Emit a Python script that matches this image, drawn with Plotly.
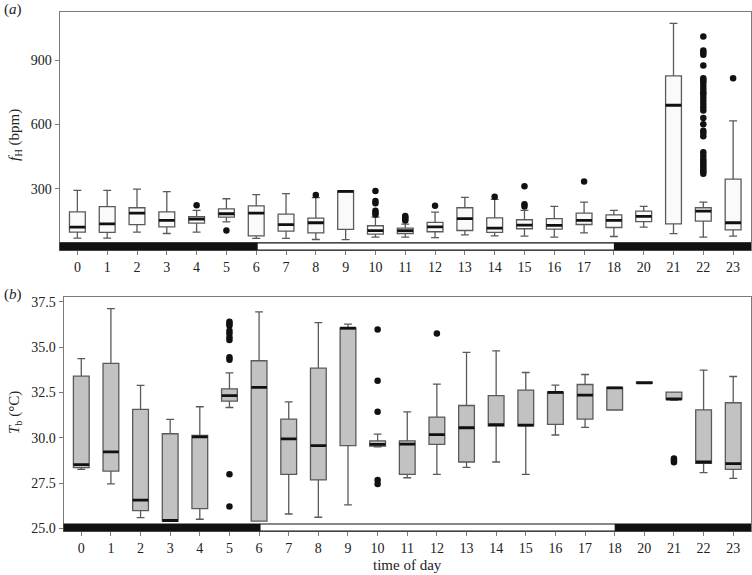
import plotly.graph_objects as go

hours = ["0", "1", "2", "3", "4", "5", "6", "7", "8", "9", "10", "11", "12",
         "13", "14", "15", "16", "17", "18", "20", "21", "22", "23"]

# (a) heart rate f_H (bpm)
fh_lower = [69, 69, 97, 91, 97, 145, 68, 68, 63, 62, 74, 74, 72, 85, 80, 79, 74, 94, 77, 121, 90, 74, 79]
fh_q1 = [97, 96, 132, 122, 139, 167, 80, 102, 94, 110, 88, 91, 99, 105, 96, 113, 111, 133, 119, 146, 136, 149, 108]
fh_median = [121, 136, 186, 152, 158, 183, 186, 132, 141, 287, 104, 104, 122, 160, 116, 130, 129, 152, 152, 171, 689, 195, 141]
fh_q3 = [192, 216, 211, 192, 169, 206, 220, 181, 163, 290, 127, 116, 143, 211, 164, 155, 160, 186, 178, 195, 826, 211, 345]
fh_upper = [292, 292, 298, 286, 199, 253, 272, 277, 258, 290, 167, 135, 191, 259, 250, 199, 217, 237, 199, 217, 1071, 237, 616]
fh_outliers = {
    "4": [223], "5": [105], "8": [270],
    "10": [289, 242, 232, 197, 188, 180],
    "11": [172, 165, 158, 152],
    "12": [220], "14": [262], "15": [311, 227, 217], "17": [333],
    "22": [1010, 945, 935, 925, 875, 815, 805, 795, 780, 765, 750, 740, 725, 710, 695,
           680, 665, 630, 600, 570, 560, 545, 470, 455, 440, 430, 420, 410, 400, 390, 380, 370],
    "23": [815],
}

# (b) body temperature T_b (°C)
tb_lower = [28.25, 27.45, 25.59, 25.38, 25.5, 31.67, 25.4, 25.79, 25.61, 26.29, 29.5, 27.79, 27.98, 28.36, 28.66, 27.98, 30.15, 30.57, 31.53, 33.0, 32.08, 28.07, 27.76]
tb_q1 = [28.35, 28.16, 25.97, 25.4, 26.08, 32.02, 25.4, 27.98, 27.67, 29.56, 29.54, 27.98, 29.63, 28.66, 30.64, 30.66, 30.74, 31.03, 31.53, 33.0, 32.13, 28.58, 28.25]
tb_median = [28.52, 29.22, 26.55, 25.43, 30.05, 32.32, 32.78, 29.94, 29.56, 36.05, 29.63, 29.65, 30.17, 30.55, 30.72, 30.7, 32.5, 32.35, 32.75, 33.03, 32.13, 28.66, 28.57]
tb_q3 = [33.40, 34.10, 31.56, 30.22, 30.13, 32.70, 34.25, 31.03, 33.84, 36.07, 29.83, 29.83, 31.14, 31.78, 32.33, 32.63, 32.52, 32.94, 32.78, 33.08, 32.52, 31.54, 31.93]
tb_upper = [34.37, 37.13, 32.89, 31.01, 31.71, 33.58, 36.95, 31.98, 36.36, 36.27, 30.2, 31.43, 32.96, 34.71, 34.80, 33.6, 32.9, 33.49, 32.78, 33.08, 32.52, 33.73, 33.38]
tb_outliers = {
    "5": [36.4, 36.3, 36.2, 35.9, 35.75, 35.55, 35.4, 34.45, 34.3, 27.98, 26.2],
    "10": [35.97, 33.14, 31.43, 27.67, 27.45],
    "12": [35.75],
    "21": [28.85, 28.75, 28.65],
}

# day/night bar: night until ~06:00 and from 18:00
night_end_idx = 6.05
night_start_idx = 18

FONT = "Liberation Serif"
GREY = "#5a5a5a"

fig = go.Figure()


def add_panel(xa, ya, low, q1, med, q3, up, outl, fill):
    fig.add_trace(go.Box(
        x=hours, q1=q1, median=med, q3=q3, lowerfence=low, upperfence=up,
        boxpoints=False, fillcolor=fill, line=dict(color=GREY, width=1.3),
        xaxis=xa, yaxis=ya, showlegend=False, hoverinfo="skip"))
    fig.add_trace(go.Box(
        x=hours, q1=med, median=med, q3=med, lowerfence=med, upperfence=med,
        boxpoints=False, fillcolor="rgba(0,0,0,0)", line=dict(color="#111111", width=2.8),
        xaxis=xa, yaxis=ya, showlegend=False, hoverinfo="skip"))
    ox, oy = [], []
    for h, vals in outl.items():
        for v in vals:
            ox.append(h)
            oy.append(v)
    fig.add_trace(go.Scatter(
        x=ox, y=oy, mode="markers", marker=dict(color="#111111", size=6.5),
        xaxis=xa, yaxis=ya, showlegend=False, hoverinfo="skip"))


add_panel("x", "y", fh_lower, fh_q1, fh_median, fh_q3, fh_upper, fh_outliers, "#fafafa")
add_panel("x2", "y2", tb_lower, tb_q1, tb_median, tb_q3, tb_upper, tb_outliers, "#c2c2c2")

W, H = 752, 575
top_dom_y = [1 - 250 / H, 1 - 12 / H]
bot_dom_y = [1 - 531 / H, 1 - 297 / H]

axis_common = dict(showline=True, linecolor="#7a7a7a", linewidth=1, mirror=True,
                   ticks="outside", ticklen=4, tickcolor="#7a7a7a", showgrid=False,
                   zeroline=False, tickfont=dict(family=FONT, size=14, color="#222222"))

fig.update_layout(
    width=W, height=H, margin=dict(l=0, r=0, t=0, b=0),
    paper_bgcolor="white", plot_bgcolor="white",
    boxmode="overlay", boxgap=0.24, showlegend=False,
    xaxis=dict(domain=[59.5 / W, 751 / W], anchor="y", type="category",
               categoryorder="array", categoryarray=hours, range=[-0.6, 22.6],
               automargin=False, **axis_common),
    yaxis=dict(domain=top_dom_y, anchor="x", range=[14, 1124],
               tickvals=[300, 600, 900], automargin=False, **axis_common),
    xaxis2=dict(domain=[63.5 / W, 751 / W], anchor="y2", type="category",
                categoryorder="array", categoryarray=hours, range=[-0.6, 22.6],
                automargin=False, **axis_common),
    yaxis2=dict(domain=bot_dom_y, anchor="x2", range=[24.85, 37.77],
                tickvals=[25, 27.5, 30, 32.5, 35, 37.5], tickformat=".1f",
                automargin=False, **axis_common),
)

shapes = []
for xr, yr in (("x", "y domain"), ("x2", "y2 domain")):
    shapes.append(dict(type="rect", xref=xr, yref=yr, x0=-0.6, x1=22.6, y0=0.0, y1=0.03,
                       fillcolor="white", line=dict(color="#111111", width=1.2)))
    shapes.append(dict(type="rect", xref=xr, yref=yr, x0=-0.6, x1=night_end_idx, y0=0.0, y1=0.03,
                       fillcolor="#111111", line=dict(width=0)))
    shapes.append(dict(type="rect", xref=xr, yref=yr, x0=night_start_idx, x1=22.6, y0=0.0, y1=0.03,
                       fillcolor="#111111", line=dict(width=0)))
fig.update_layout(shapes=shapes)

tfont = dict(family=FONT, size=15, color="#222222")
fig.update_layout(annotations=[
    dict(text="(<i>a</i>)", x=2 / W, y=1 - 9 / H, xref="paper", yref="paper",
         xanchor="left", yanchor="middle", showarrow=False, font=tfont),
    dict(text="(<i>b</i>)", x=2 / W, y=1 - 294 / H, xref="paper", yref="paper",
         xanchor="left", yanchor="middle", showarrow=False, font=tfont),
    dict(text="<i>f</i><sub>H</sub> (bpm)", x=15 / W, y=1 - 135 / H, xref="paper", yref="paper",
         xanchor="center", yanchor="middle", textangle=-90, showarrow=False, font=tfont),
    dict(text="<i>T</i><sub>b</sub> (°C)", x=15 / W, y=1 - 413 / H, xref="paper", yref="paper",
         xanchor="center", yanchor="middle", textangle=-90, showarrow=False, font=tfont),
    dict(text="time of day", x=407 / W, y=1 - 565 / H, xref="paper", yref="paper",
         xanchor="center", yanchor="middle", showarrow=False, font=tfont),
])

fig.write_html(
    "out.html",
    config={"displayModeBar": False},
    post_script="document.body.style.margin='0';document.body.style.overflow='hidden';",
)
